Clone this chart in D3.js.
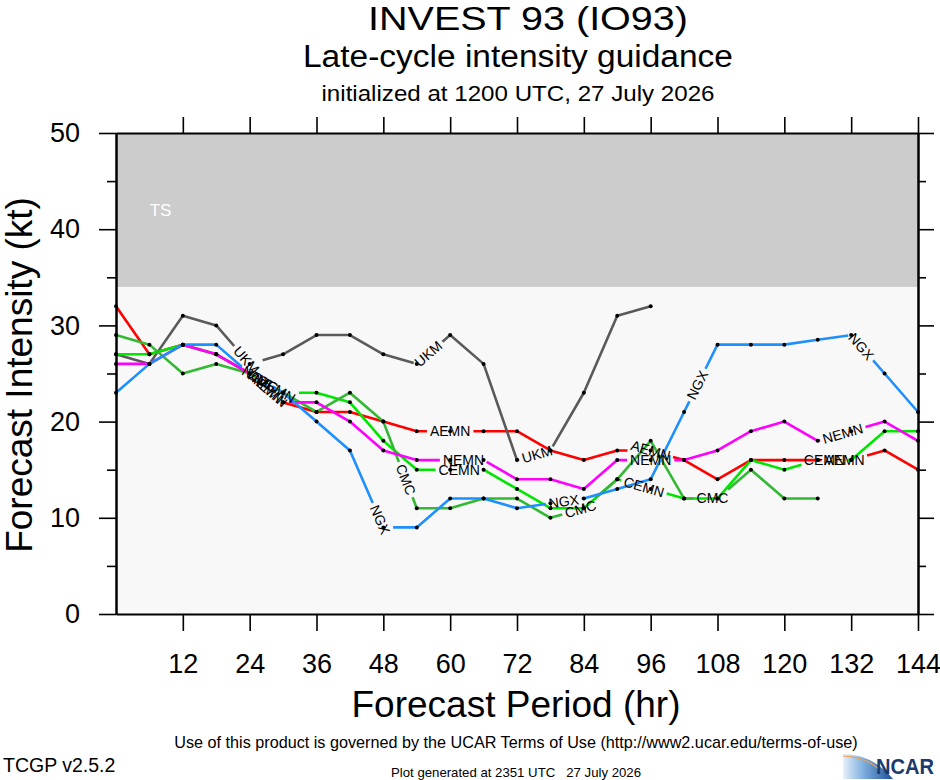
<!DOCTYPE html>
<html lang="en">
<meta charset="utf-8">
<title>INVEST 93 (IO93) late-cycle intensity guidance</title>
<script src="https://d3js.org/d3.v7.min.js"></script>
<style>
  body { margin: 0; background: #fff; }
  text { font-family: "Liberation Sans", Arial, Helvetica, sans-serif; white-space: pre; }
</style>
<svg width="940" height="780"></svg>
<script>
// forecast hours and axis ticks
var hours = [0, 6, 12, 18, 24, 30, 36, 42, 48, 54, 60, 66, 72, 78, 84, 90, 96, 102, 108, 114, 120, 126, 132, 138, 144];
var xTicks = [12, 24, 36, 48, 60, 72, 84, 96, 108, 120, 132, 144];
var yTicks = [0, 10, 20, 30, 40, 50];
var yMinor = [5, 15, 25, 35, 45];
var tsFloor = 34;

// intensity (kt) per model, one value per 6 h
var modelNames = ["AEMN", "UKM", "CEMN", "CMC", "NEMN", "NGX"];
var aemn = [32, 27, 28, 27, 25, 22, 21, 21, 20, 19, 19, 19, 19, 17, 16, 17, 17, 16, 14, 16, 16, 16, 16, 17, 15];
var ukm  = [27, 26, 31, 30, 26, 27, 29, 29, 27, 26, 29, 26, 16, 17, 23, 31, 32];
var cemn = [27, 27, 28, 27, 25, 23, 23, 22, 18, 15, 15, 15, 13, 11, 11, 14, 13, 12, 12, 16, 15, 16, 16, 19, 19];
var cmc  = [29, 28, 25, 26, 25, 23, 21, 23, 20, 11, 11, 12, 12, 10, 11, 14, 18, 12, 12, 15, 12, 12];
var nemn = [26, 26, 28, 27, 25, 22, 22, 20, 17, 16, 16, 16, 14, 14, 13, 16, 16, 16, 17, 19, 20, 18, 19, 20, 18];
var ngx  = [23, 26, 28, 28, 25, 23, 20, 17, 9, 9, 12, 12, 11, 11.5, 12, 13, 14, 21, 28, 28, 28, 28.5, 29, 25, 21];
var modelValues = [aemn, ukm, cemn, cmc, nemn, ngx];
var modelColors = ["#ff0000", "#5a5a5a", "#00e600", "#33b833", "#ff00ff", "#1e8fff"];
// in-line label positions along each track, in point-index units (4.5 = halfway 24h..30h)
var labelPos = [
  [4.5, 10.0, 16.0, 21.8],
  [3.9, 9.35, 12.6],
  [4.8, 10.27, 15.8, 21.2],
  [4.4, 8.67, 13.9, 17.85],
  [4.6, 10.4, 16.0, 21.75],
  [4.2, 7.9, 13.4, 17.4, 22.3]
];

var svg = d3.select("svg");
var plotLeft = 116, plotRight = 918, plotTop = 133, plotBottom = 614;

var x = d3.scaleLinear().domain([0, 144]).range([plotLeft, plotRight]);
var y = d3.scaleLinear().domain([0, 50]).range([plotBottom, plotTop]);

// background bands
svg.append("rect")
    .attr("x", plotLeft).attr("y", y(tsFloor))
    .attr("width", plotRight - plotLeft).attr("height", y(0) - y(tsFloor))
    .attr("fill", "#f8f8f8");
svg.append("rect")
    .attr("x", plotLeft).attr("y", y(50))
    .attr("width", plotRight - plotLeft).attr("height", y(tsFloor) - y(50))
    .attr("fill", "#cccccc");
svg.append("text")
    .attr("x", x(8)).attr("y", y(42))
    .attr("dy", "0.35em")
    .attr("text-anchor", "middle")
    .attr("fill", "#fff")
    .style("font-size", "17px")
    .text("TS");

// lines, broken where their own label sits
var lineGen = d3.line();
var lines = svg.append("g");
var labels = [];
var dots = [];

modelNames.forEach(function(name, m) {
  var pts = modelValues[m].map(function(v, i) { return [x(hours[i]), y(v)]; });
  dots = dots.concat(pts);

  var tmp = svg.append("text").style("font-size", "14px").text(name);
  var half = tmp.node().getComputedTextLength() / 2 + 3;
  tmp.remove();

  var cum = [0];
  for (var i = 1; i < pts.length; i++) {
    var ddx = pts[i][0] - pts[i - 1][0], ddy = pts[i][1] - pts[i - 1][1];
    cum.push(cum[i - 1] + Math.sqrt(ddx * ddx + ddy * ddy));
  }
  var total = cum[cum.length - 1];
  function at(s) {
    var k = Math.max(0, Math.min(d3.bisectRight(cum, s) - 1, pts.length - 2));
    var seg = cum[k + 1] - cum[k], t = seg ? (s - cum[k]) / seg : 0;
    return [pts[k][0] + (pts[k + 1][0] - pts[k][0]) * t, pts[k][1] + (pts[k + 1][1] - pts[k][1]) * t, k];
  }
  function piece(u, v) {
    var p = [at(u)];
    for (var i = 0; i < pts.length; i++) if (cum[i] > u && cum[i] < v) p.push(pts[i]);
    p.push(at(v));
    return p;
  }

  var centres = labelPos[m].map(function(p) {
    var k = Math.floor(p);
    return cum[k] + (p - k) * (cum[k + 1] - cum[k]);
  }).sort(d3.ascending);

  var pieces = [], start = 0;
  centres.forEach(function(s) {
    if (s - half > start) pieces.push(piece(start, s - half));
    start = Math.max(start, s + half);
    var c = at(s), k = c[2];
    var angle = Math.atan2(pts[k + 1][1] - pts[k][1], pts[k + 1][0] - pts[k][0]) * 180 / Math.PI;
    labels.push({name: name, x: c[0], y: c[1], angle: angle});
  });
  if (start < total) pieces.push(piece(start, total));

  lines.selectAll(null)
    .data(pieces)
    .enter().append("path")
      .attr("d", lineGen)
      .attr("fill", "none")
      .attr("stroke", modelColors[m])
      .attr("stroke-width", 2.6)
      .attr("stroke-linejoin", "round");
});

svg.append("g").selectAll("text")
  .data(labels)
  .enter().append("text")
    .attr("transform", function(d) { return "translate(" + d.x + "," + d.y + ") rotate(" + d.angle + ")"; })
    .attr("text-anchor", "middle")
    .attr("dy", "0.35em")
    .style("font-size", "14px")
    .attr("fill", "#000")
    .text(function(d) { return d.name; });

svg.append("g").selectAll("circle")
  .data(dots)
  .enter().append("circle")
    .attr("cx", function(d) { return d[0]; })
    .attr("cy", function(d) { return d[1]; })
    .attr("r", 2)
    .attr("fill", "#000");

// axes
function styleAxis(sel) {
  sel.selectAll(".domain").attr("stroke-width", 2);
  sel.selectAll(".tick line").attr("stroke-width", 1.6);
  sel.selectAll(".tick text").style("font-size", "27px").attr("fill", "#000")
     .style("font-family", '"Liberation Sans", Arial, sans-serif');
}

svg.append("g")
    .attr("transform", "translate(0," + plotBottom + ")")
    .call(d3.axisBottom(x).tickValues(xTicks).tickSize(17).tickSizeOuter(0).tickPadding(23))
    .call(styleAxis);
svg.append("g")
    .attr("transform", "translate(0," + plotTop + ")")
    .call(d3.axisTop(x).tickValues(xTicks).tickSize(16).tickSizeOuter(0).tickFormat(""))
    .call(styleAxis);
svg.append("g")
    .attr("transform", "translate(" + plotLeft + ",0)")
    .call(d3.axisLeft(y).tickValues(yTicks).tickSize(17).tickSizeOuter(0).tickPadding(19))
    .call(styleAxis);
svg.append("g")
    .attr("transform", "translate(" + plotLeft + ",0)")
    .call(d3.axisLeft(y).tickValues(yMinor).tickSize(9).tickSizeOuter(0).tickFormat(""))
    .call(styleAxis);
svg.append("g")
    .attr("transform", "translate(" + plotRight + ",0)")
    .call(d3.axisRight(y).tickValues(yTicks).tickSize(16).tickSizeOuter(0).tickFormat(""))
    .call(styleAxis);
svg.append("g")
    .attr("transform", "translate(" + plotRight + ",0)")
    .call(d3.axisRight(y).tickValues(yMinor).tickSize(8).tickSizeOuter(0).tickFormat(""))
    .call(styleAxis);

// titles
svg.append("text")
    .attr("x", 528).attr("y", 30)
    .attr("text-anchor", "middle")
    .style("font-size", "33px")
    .attr("textLength", 320).attr("lengthAdjust", "spacingAndGlyphs")
    .text("INVEST 93 (IO93)");
svg.append("text")
    .attr("x", 518).attr("y", 67)
    .attr("text-anchor", "middle")
    .style("font-size", "31px")
    .attr("textLength", 430).attr("lengthAdjust", "spacingAndGlyphs")
    .text("Late-cycle intensity guidance");
svg.append("text")
    .attr("x", 518).attr("y", 101)
    .attr("text-anchor", "middle")
    .style("font-size", "22px")
    .attr("textLength", 393).attr("lengthAdjust", "spacingAndGlyphs")
    .text("initialized at 1200 UTC, 27 July 2026");

svg.append("text")
    .attr("x", 516).attr("y", 717)
    .attr("text-anchor", "middle")
    .style("font-size", "37px")
    .text("Forecast Period (hr)");
svg.append("text")
    .attr("transform", "translate(32,375) rotate(-90)")
    .attr("text-anchor", "middle")
    .style("font-size", "37px")
    .text("Forecast Intensity (kt)");

// footer
svg.append("text")
    .attr("x", 516).attr("y", 748)
    .attr("text-anchor", "middle")
    .style("font-size", "16.2px")
    .text("Use of this product is governed by the UCAR Terms of Use (http://www2.ucar.edu/terms-of-use)");
svg.append("text")
    .attr("x", 3).attr("y", 772)
    .style("font-size", "19.5px")
    .text("TCGP v2.5.2");
svg.append("text")
    .attr("x", 516).attr("y", 777)
    .attr("text-anchor", "middle")
    .style("font-size", "13.2px")
    .text("Plot generated at 2351 UTC   27 July 2026");

// NCAR logo
var grad = svg.append("defs").append("linearGradient")
    .attr("id", "ncarGrad").attr("x1", "0").attr("x2", "1").attr("y1", "0").attr("y2", "0");
grad.append("stop").attr("offset", "0").attr("stop-color", "#e6f0fa");
grad.append("stop").attr("offset", "0.4").attr("stop-color", "#7fb0e0");
grad.append("stop").attr("offset", "1").attr("stop-color", "#1c4f95");
svg.append("path")
    .attr("d", "M843,779 L843,754 Q872,754 893,779 Z")
    .attr("fill", "url(#ncarGrad)");
svg.append("path")
    .attr("d", "M843,756 Q866,757 880,770")
    .attr("fill", "none").attr("stroke", "#f0a050").attr("stroke-width", 1.2);
svg.append("text")
    .attr("x", 876).attr("y", 774)
    .style("font-size", "22px")
    .style("font-weight", "bold")
    .attr("fill", "#1b3a6b")
    .attr("textLength", 58)
    .attr("lengthAdjust", "spacingAndGlyphs")
    .text("NCAR");
</script>
</html>
